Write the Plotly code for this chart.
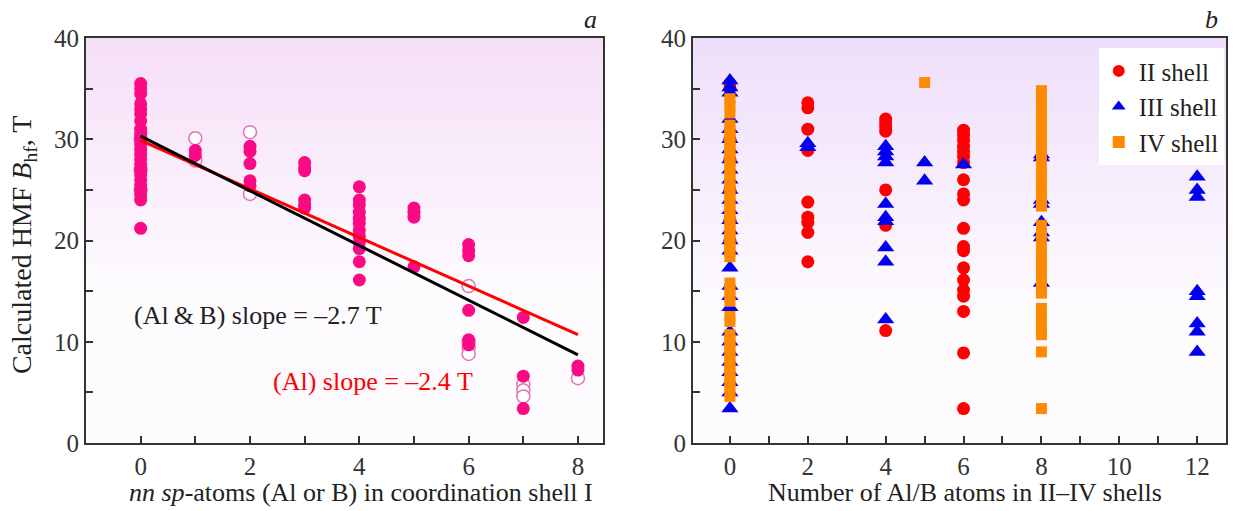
import plotly.graph_objects as go
import numpy as np

# ---------------- Panel a data ----------------
# number of nn sp-atoms (Al or B) in shell I
al_counts = [0, 1, 2, 3, 4, 5, 6, 7, 8]
# filled: Al
al_bhf = [
    [35.5, 35.0, 34.5, 33.5, 33.0, 32.5, 31.8, 31.0, 30.5, 30.0, 29.5, 29.0, 28.5, 28.0,
     27.5, 27.0, 26.5, 26.0, 25.5, 25.0, 24.5, 24.0, 21.2],
    [28.9, 28.4],
    [29.3, 28.8, 27.6, 25.9, 25.4],
    [27.7, 27.2, 26.9, 24.0, 23.5, 23.2],
    [25.3, 24.0, 23.5, 22.8, 22.2, 21.7, 21.0, 20.4, 19.8, 19.2, 17.9, 16.1],
    [23.2, 22.8, 22.3, 17.4],
    [19.6, 19.0, 18.5, 13.1, 10.2, 9.7],
    [12.4, 6.6, 3.4],
    [7.6, 7.2],
]
# open: B
b_counts = [0, 1, 2, 6, 7, 8]
b_bhf = [
    [30.0, 27.0, 25.0],
    [30.1, 27.9],
    [30.7, 24.6],
    [15.5, 10.0, 9.4, 8.8],
    [5.8, 5.2, 4.6],
    [6.4],
]
# linear fits: (intercept, slope)
fit_labels = ["(Al\u2009&amp;\u2009B)", "(Al)"]
fit_intercept = [30.3, 29.9]
fit_slope = [-2.7, -2.4]
fit_x = [0, 8]

# ---------------- Panel b data ----------------
ii_counts = [0, 2, 4, 6]
ii_bhf = [
    [35.5, 35.0, 30.0, 28.0, 25.0, 22.0, 20.0],
    [33.6, 33.1, 31.0, 28.9, 23.8, 22.3, 21.8, 20.8, 17.9],
    [32.0, 31.6, 31.2, 30.8, 25.0, 21.5, 11.1],
    [30.9, 30.4, 29.9, 29.3, 28.8, 28.3, 27.7, 26.0, 24.6, 24.0, 21.2, 19.4, 19.0,
     17.3, 16.1, 15.1, 14.5, 13.0, 8.9, 3.4],
]
iii_counts = [0, 2, 4, 5, 6, 8, 12]
iii_bhf = [
    [35.8, 35.1, 34.6, 32.0, 31.0, 30.0, 29.0, 28.0, 27.0, 26.0, 25.0, 24.0, 23.0, 22.0,
     21.0, 20.0, 19.0, 17.3, 15.5, 14.5, 13.4, 11.0, 10.0, 9.0, 8.0, 7.0, 6.0, 5.0, 3.4],
    [29.6, 29.2],
    [29.3, 28.8, 28.3, 27.7, 23.6, 22.3, 21.9, 19.3, 17.9, 12.2],
    [27.7, 25.9],
    [27.5],
    [28.5, 28.2, 24.0, 23.6, 21.8, 20.8, 20.3, 15.8],
    [26.3, 25.0, 24.3, 15.0, 14.5, 11.8, 11.0, 9.0],
]
iv_counts = [0, 5, 8]
iv_bhf = [
    [34.0, 33.3, 32.6, 31.4, 30.9, 30.4, 29.9, 29.4, 28.9, 28.4, 27.9, 27.4, 26.9, 26.4,
     25.9, 25.4, 24.9, 24.4, 23.9, 23.4, 22.9, 22.4, 21.9, 21.4, 20.9, 20.4, 19.9, 19.4,
     18.9, 18.4, 15.8, 15.2, 14.6, 14.0, 12.5, 12.0, 10.7, 10.2, 9.7, 9.2, 8.7, 8.2,
     7.7, 7.2, 6.7, 6.2, 5.7, 5.2, 4.6],
    [35.6],
    [34.8, 34.0, 33.0, 32.0, 31.0, 30.0, 29.0, 28.0, 27.0, 26.0, 25.0, 24.0, 23.4, 21.5,
     20.5, 19.5, 18.5, 17.5, 16.5, 15.5, 14.8, 13.3, 12.5, 11.5, 10.7, 9.0, 3.4],
]
legend_names = ["II shell", "III shell", "IV shell"]

# tick labels
y_ticks = [0, 10, 20, 30, 40]
xa_ticks = [0, 2, 4, 6, 8]
xb_ticks = [0, 2, 4, 6, 8, 10, 12]


def flatten(counts, vals):
    xs, ys = [], []
    for c, vs in zip(counts, vals):
        xs += [c] * len(vs)
        ys += list(vs)
    return xs, ys


SERIF = "Liberation Serif, Times New Roman, serif"
TXT = "#222222"
fig = go.Figure()

# ---- background gradients (decoration) ----
def add_gradient(xref, yref, top_rgb, y_start, y_end, n=60):
    base = np.array([253, 251, 254])
    top = np.array(top_rgb)
    edges = np.linspace(y_start, y_end, n + 1)
    for i in range(n):
        t = (i + 0.5) / n
        c = base + (top - base) * t
        fig.add_shape(type="rect", xref=xref, yref=yref, x0=0, x1=1,
                      y0=edges[i], y1=edges[i + 1] + 0.05, layer="below",
                      line=dict(width=0),
                      fillcolor="rgb(%d,%d,%d)" % tuple(c.round()))

add_gradient("x domain", "y", (245, 222, 247), 15, 40)
add_gradient("x2 domain", "y2", (238, 222, 250), 13.5, 40)

# ---- panel a ----
bx, by = flatten(b_counts, b_bhf)
fig.add_trace(go.Scatter(x=bx, y=by, mode="markers", xaxis="x", yaxis="y",
                         marker=dict(symbol="circle", size=13, color="white",
                                     line=dict(color="#e074b4", width=1.5)),
                         showlegend=False))
ax, ay = flatten(al_counts, al_bhf)
fig.add_trace(go.Scatter(x=ax, y=ay, mode="markers", xaxis="x", yaxis="y",
                         marker=dict(symbol="circle", size=13, color="#fa0a84",
                                     line=dict(width=0)),
                         showlegend=False))
fx = np.array(fit_x, dtype=float)
for b0, k, col in zip(fit_intercept[::-1], fit_slope[::-1], ["#ff0000", "#000000"]):
    fig.add_trace(go.Scatter(x=fx, y=b0 + k * fx, mode="lines", xaxis="x", yaxis="y",
                             line=dict(color=col, width=3), showlegend=False))

# ---- panel b ----
styles = [
    dict(symbol="circle", size=13, color="#ff0000"),
    dict(symbol="triangle-up", size=15, color="#0000ee"),
    dict(symbol="square", size=11, color="#ff8a00"),
]
for name, counts, vals, st in zip(legend_names, [ii_counts, iii_counts, iv_counts],
                                  [ii_bhf, iii_bhf, iv_bhf], styles):
    xs, ys = flatten(counts, vals)
    fig.add_trace(go.Scatter(x=xs, y=ys, mode="markers", xaxis="x2", yaxis="y2",
                             name=name, marker=dict(line=dict(width=0), **st)))

axis_common = dict(showline=True, linecolor="#333333", linewidth=2, mirror=True,
                   ticks="inside", ticklen=7, tickwidth=1.5, tickcolor="#333333",
                   showgrid=False, zeroline=False,
                   tickfont=dict(family=SERIF, size=25, color="#333333"))
minor_common = dict(ticks="inside", ticklen=7, tickwidth=1.5, tickcolor="#333333")

fig.update_layout(
    width=1237, height=511,
    margin=dict(l=86, r=9, t=37.5, b=67.5),
    paper_bgcolor="white", plot_bgcolor="#fdfbfe",
    xaxis=dict(domain=[0, 0.4536], range=[-1, 8.46], tickvals=xa_ticks,
               minor=dict(dtick=1, **minor_common), **axis_common),
    yaxis=dict(range=[0, 40], tickvals=y_ticks,
               minor=dict(dtick=5, **minor_common), **axis_common),
    xaxis2=dict(domain=[0.5324, 1], range=[-0.95, 12.74], tickvals=xb_ticks,
                minor=dict(dtick=1, **minor_common), anchor="y2", **axis_common),
    yaxis2=dict(range=[0, 40], tickvals=y_ticks, anchor="x2",
                minor=dict(dtick=5, **minor_common), **axis_common),
    legend=dict(x=0.998, xanchor="right", y=0.975, yanchor="top",
                bgcolor="white", borderwidth=0,
                font=dict(family=SERIF, size=25, color=TXT),
                itemsizing="constant", tracegroupgap=0),
)

def px_x(p):
    return (p - 86) / 1142

def px_y(p):
    return (443.5 - p) / 406

ann_font = dict(family=SERIF, size=26, color=TXT)
fig.add_annotation(xref="paper", yref="paper", x=px_x(24), y=px_y(245),
                   xanchor="center", yanchor="middle",
                   text="Calculated HMF <i>B</i><sub>hf</sub>, T", textangle=-90,
                   showarrow=False, font=dict(family=SERIF, size=28, color=TXT))
fig.add_annotation(xref="paper", yref="paper", x=px_x(361), y=px_y(493),
                   xanchor="center", yanchor="middle",
                   text="<i>nn sp</i>-atoms (Al or B) in coordination shell I",
                   showarrow=False, font=ann_font)
fig.add_annotation(xref="paper", yref="paper", x=px_x(967), y=px_y(493),
                   xanchor="center", yanchor="middle",
                   text="Number of Al/B atoms in II&#8211;IV shells",
                   showarrow=False, font=dict(family=SERIF, size=26, color=TXT))
fig.add_annotation(xref="paper", yref="paper", x=px_x(591), y=px_y(19),
                   xanchor="center", yanchor="middle",
                   text="<i>a</i>", showarrow=False, font=ann_font)
fig.add_annotation(xref="paper", yref="paper", x=px_x(1213), y=px_y(19),
                   xanchor="center", yanchor="middle",
                   text="<i>b</i>", showarrow=False, font=ann_font)
fig.add_annotation(xref="paper", yref="paper", x=px_x(258), y=px_y(316),
                   xanchor="center", yanchor="middle",
                   text="%s slope = –%.1f T" % (fit_labels[0], -fit_slope[0]),
                   showarrow=False, font=ann_font)
fig.add_annotation(xref="paper", yref="paper", x=px_x(374), y=px_y(382),
                   xanchor="center", yanchor="middle",
                   text="%s slope = –%.1f T" % (fit_labels[1], -fit_slope[1]),
                   showarrow=False, font=dict(family=SERIF, size=26, color="#ff0000"))

fig.write_html("out.html", config={"displayModeBar": False},
               post_script="document.body.style.margin='0px';")
